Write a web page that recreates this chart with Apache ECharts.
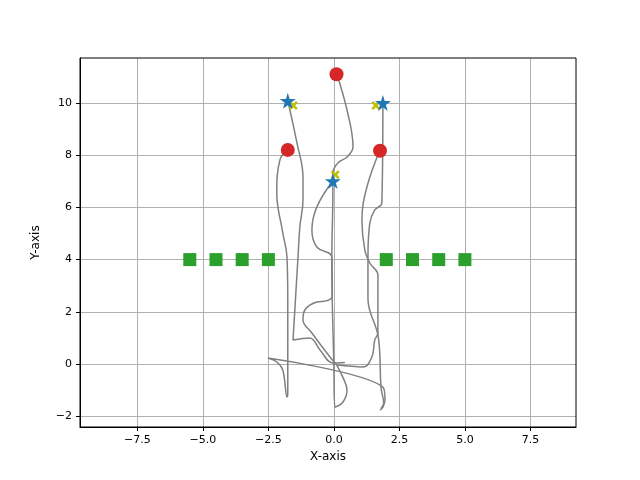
<!DOCTYPE html>
<html>
<head>
<meta charset="utf-8">
<script src="https://cdn.jsdelivr.net/npm/echarts@6/dist/echarts.min.js"></script>
<style>html,body{margin:0;padding:0;background:#fff}#c{width:640px;height:480px}</style>
</head>
<body>
<div id="c"></div>
<script>
// tick labels
var xTicks = [-7.5, -5, -2.5, 0, 2.5, 5, 7.5];
var yTicks = [-2, 0, 2, 4, 6, 8, 10];

// markers
var squares = [[-5.5, 4], [-4.5, 4], [-3.5, 4], [-2.5, 4], [2, 4], [3, 4], [4, 4], [5, 4]];
var circles = [[0.1, 11.1], [-1.76, 8.2], [1.76, 8.17]];
var stars = [[-1.76, 10.08], [1.87, 10.0], [-0.04, 7.01]];
var crosses = [[-1.55, 9.9], [1.6, 9.9], [0.05, 7.25]];

// trajectories
var pathA = [[-1.76, 8.2], [-2.06, 7.82], [-2.18, 6.55], [-1.95, 5.02], [-1.79, 4.1], [-1.76, 2.45], [-1.76, -1.11], [-1.79, -1.26], [-1.95, -0.23], [-2.18, 0.08], [-2.52, 0.23], [1.87, -0.88], [1.95, -1.38], [1.87, -1.65], [1.76, -1.76]];
var pathB = [[-1.76, 10.08], [-1.41, 8.47], [-1.18, 7.16], [-1.18, 6.28], [-1.3, 5.25], [-1.37, 4.1], [-1.56, 0.92], [-0.92, 1.0], [-0.53, 0.54], [-0.04, 0.04], [0.42, 0.06]];
var pathC = [[0.11, 11.11], [0.5, 9.73], [0.73, 8.31], [0.5, 7.93], [0.15, 7.7], [-0.04, 7.32], [-0.04, 6.55], [-0.08, 3.98], [0, -0.11], [0.04, -1.65], [0.34, -1.46], [0.5, -1.0], [0.34, -0.5], [0.11, -0.04]];
var pathD = [[-0.04, 7.01], [-0.65, 6.02], [-0.84, 5.13], [-0.65, 4.48], [-0.08, 4.1], [-0.06, 2.6], [-0.3, 2.42], [-0.65, 2.38], [-1.11, 2.07], [-1.18, 1.69], [-0.84, 1.19], [-0.15, 0.27], [0.11, -0.04]];
var pathE = [[1.76, 8.2], [1.26, 6.78], [1.07, 5.52], [1.18, 4.37], [1.37, 3.87], [1.68, 3.41], [1.68, 1.19], [1.56, 0.92], [1.45, 0.27], [1.11, -0.11], [0.11, -0.04]];
var pathF = [[1.87, 10.0], [1.83, 6.17], [1.56, 5.9], [1.37, 5.4], [1.3, 4.1], [1.3, 2.5], [1.7, 1.0], [1.8, -0.9], [1.9, -1.5], [1.8, -1.7]];

var starPath = 'path://M50,0 L61,35 L98,35 L68,57 L79,91 L50,70 L21,91 L32,57 L2,35 L39,35 Z';
var crossPath = 'path://M20,0 L50,30 L80,0 L100,20 L70,50 L100,80 L80,100 L50,70 L20,100 L0,80 L30,50 L0,20 Z';

var lines = [pathA, pathB, pathC, pathD, pathE, pathF].map(function (p) {
    return {
        type: 'line', data: p, smooth: 0.4, symbol: 'none', z: 2,
        lineStyle: {color: '#808080', width: 1.5}
    };
});

var chart = echarts.init(document.getElementById('c'));
chart.setOption({
    animation: false,
    textStyle: {fontFamily: 'DejaVu Sans'},
    grid: {left: 80, right: 64, top: 58, bottom: 53},
    xAxis: {
        type: 'value', min: -9.69, max: 9.24,
        name: 'X-axis', nameLocation: 'middle', nameGap: 22,
        nameTextStyle: {color: '#000', fontSize: 12},
        axisLine: {onZero: false, lineStyle: {color: '#000'}},
        axisTick: {show: true, length: 4, customValues: xTicks, lineStyle: {color: '#000'}},
        axisLabel: {color: '#000', fontSize: 11, customValues: xTicks, formatter: function (v) {
            return (v < 0 ? '\u2212' : '') + Math.abs(v).toFixed(1);
        }},
        splitLine: {show: true, lineStyle: {color: '#b0b0b0', width: 1}}
    },
    yAxis: {
        type: 'value', min: -2.41, max: 11.72,
        name: 'Y-axis', nameLocation: 'middle', nameGap: 38,
        nameTextStyle: {color: '#000', fontSize: 12},
        axisLine: {show: true, onZero: false, lineStyle: {color: '#000'}},
        axisTick: {show: true, length: 4, customValues: yTicks, lineStyle: {color: '#000'}},
        axisLabel: {color: '#000', fontSize: 11, customValues: yTicks, formatter: function (v) {
            return (v < 0 ? '\u2212' : '') + Math.abs(v);
        }},
        splitLine: {show: true, lineStyle: {color: '#b0b0b0', width: 1}}
    },
    graphic: [{
        type: 'rect', shape: {x: 80, y: 58, width: 496, height: 369},
        style: {fill: 'none', stroke: '#000', lineWidth: 1}, z: 100, silent: true
    }],
    series: lines.concat([
        {type: 'scatter', data: squares, symbol: 'rect', symbolSize: 13, itemStyle: {color: '#2ca02c', opacity: 1}, z: 3},
        {type: 'scatter', data: circles, symbol: 'circle', symbolSize: 14, itemStyle: {color: '#d62728', opacity: 1}, z: 3},
        {type: 'scatter', data: crosses, symbol: crossPath, symbolSize: 9, itemStyle: {color: '#bfbf00', opacity: 1}, z: 3},
        {type: 'scatter', data: stars, symbol: starPath, symbolSize: 16, itemStyle: {color: '#1f77b4', opacity: 1}, z: 4}
    ])
});
</script>
</body>
</html>
